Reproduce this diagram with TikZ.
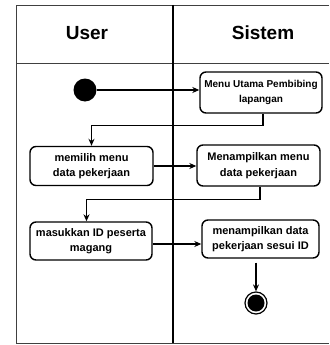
\documentclass[tikz,border=0pt]{standalone}
\usepackage{fontspec}
\setmainfont{Liberation Sans}
\usetikzlibrary{arrows.meta}

\begin{document}
\begin{tikzpicture}[
    x=1pt, y=-1pt,
    >={Stealth[length=7pt,width=6pt]},
    every node/.style={font=\bfseries\fontsize{11}{15.5}\selectfont},
    % 泳道标题
    lane/.style={font=\bfseries\fontsize{19}{22}\selectfont},
    % 活动节点
    act/.style={
        draw, rounded corners=6pt, line width=1.4pt, align=center,
        fill=white, inner sep=0pt
    },
    % 起点 / 终点
    start/.style={circle, fill=black, minimum size=23pt, inner sep=0pt},
    stopout/.style={circle, draw, line width=1.2pt, minimum size=22pt, inner sep=0pt},
    stopin/.style={circle, fill=black, minimum size=17pt, inner sep=0pt},
    % 连线
    flow/.style={->, line width=1.3pt},
    frame/.style={line width=0.9pt, black!75},
]
\useasboundingbox (0,0) rectangle (329,345);

%% ── 泳道框架 ───────────────────────────────────────────
\draw[frame] (329,5) -- (16,5) -- (16,343) -- (329,343);
\draw[frame] (16,63) -- (329,63);
\draw[line width=1.1pt] (173,5) -- (173,343);

\node[lane] (huser) at (87,33) {User};
\node[lane] (hsis)  at (263,33) {Sistem};

%% ── 活动节点 ───────────────────────────────────────────
\node[start] (s0) at (85,90) {};
\node[act, minimum width=122pt, minimum height=41pt,
      font=\bfseries\fontsize{10}{15}\selectfont] (menu) at (261,92.5)
    {Menu Utama Pembibing\\lapangan};

\node[act, minimum width=123pt, minimum height=39pt] (pilih) at (91.5,166)
    {memilih menu\\data pekerjaan};
\node[act, minimum width=123pt, minimum height=41pt] (tampil) at (258.5,165.5)
    {Menampilkan menu\\data pekerjaan};

\node[act, minimum width=122pt, minimum height=38pt] (masuk) at (91,241)
    {masukkan ID peserta\\magang};
\node[act, minimum width=117pt, minimum height=38pt] (hasil) at (260.5,239)
    {menampilkan data\\pekerjaan sesui ID};

\node[stopout] (s1) at (256,303) {};
\node[stopin] at (s1) {};

%% ── 连线 ───────────────────────────────────────────────
\draw[flow] (s0) -- (menu.west |- s0);
\draw[flow] ([xshift=2pt]menu.south) -- ++(0,12) -| (pilih.north);
\draw[flow] (pilih.east) -- (pilih.east -| tampil.west);
\draw[flow] ([xshift=1.5pt]tampil.south) -- ++(0,13) -| ([xshift=-4.5pt]masuk.north);
\draw[flow] ([yshift=-3pt]masuk.east) -- ([yshift=-3pt]masuk.east -| hasil.west);
\draw[flow] ([xshift=-4.5pt,yshift=-4pt]hasil.south) -- (s1.north);

\end{tikzpicture}
\end{document}
